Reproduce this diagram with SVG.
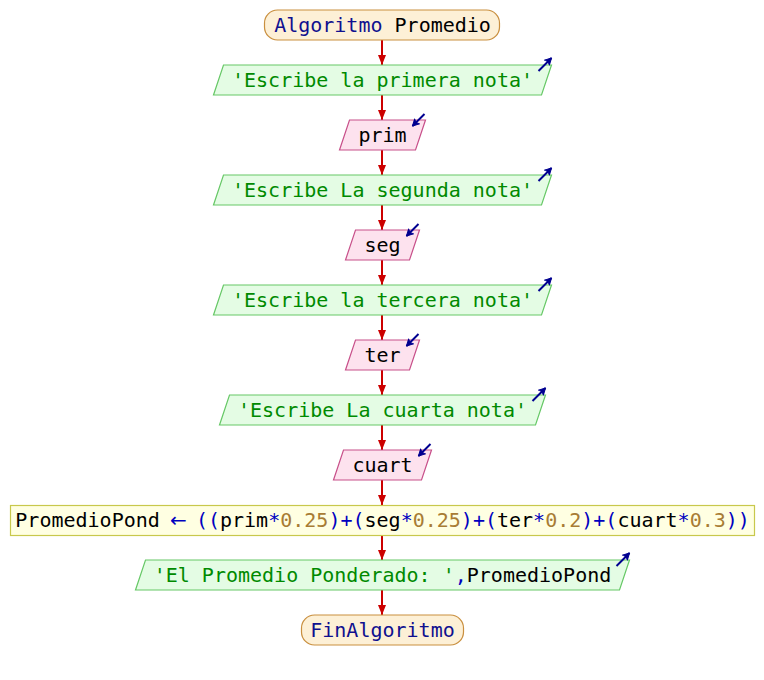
<svg xmlns="http://www.w3.org/2000/svg" width="764" height="680" viewBox="0 0 764 680">
  <style>
    text { font-family: "DejaVu Sans Mono", "Liberation Mono", monospace; font-size: 20px; text-anchor: middle; }
    .lt { text-anchor: start; }
    .term { fill: #fdf0d6; stroke: #c98f3f; stroke-width: 1.2; }
    .out { fill: #e4fce4; stroke: #66c866; stroke-width: 1.2; }
    .in { fill: #fde2ee; stroke: #c8508a; stroke-width: 1.2; }
    .asg { fill: #ffffe2; stroke: #c8c84c; stroke-width: 1.2; }
    .kw { fill: #10108f; }
    .var { fill: #000000; }
    .str { fill: #008a00; }
    .op { fill: #0000c0; }
    .num { fill: #a87c34; }
    .flow { stroke: #cc0000; stroke-width: 2; fill: none; marker-end: url(#head); }
    .io { stroke: #000090; stroke-width: 2; fill: none; marker-end: url(#iohead); }
  </style>
  <defs>
    <marker id="head" viewBox="0 0 10 8" refX="10" refY="4" markerWidth="10" markerHeight="8" markerUnits="userSpaceOnUse" orient="auto">
      <path d="M0,0 L10,4 L0,8 Z" fill="#cc0000"/>
    </marker>
    <marker id="iohead" viewBox="0 0 8 8" refX="7" refY="4" markerWidth="8" markerHeight="8" markerUnits="userSpaceOnUse" orient="auto">
      <path d="M0.5,0.5 L7,4 L0.5,7.5 L2,4 Z" fill="#000090" stroke="#000090" stroke-width="1" stroke-linejoin="round"/>
    </marker>
  </defs>

  <!-- flow connectors -->
  <g id="connectors">
    <line class="flow" x1="382" y1="40" x2="382" y2="65"/>
    <line class="flow" x1="382" y1="95" x2="382" y2="120"/>
    <line class="flow" x1="382" y1="150" x2="382" y2="175"/>
    <line class="flow" x1="382" y1="205" x2="382" y2="230"/>
    <line class="flow" x1="382" y1="260" x2="382" y2="285"/>
    <line class="flow" x1="382" y1="315" x2="382" y2="340"/>
    <line class="flow" x1="382" y1="370" x2="382" y2="395"/>
    <line class="flow" x1="382" y1="425" x2="382" y2="450"/>
    <line class="flow" x1="382" y1="480" x2="382" y2="505"/>
    <line class="flow" x1="382" y1="535" x2="382" y2="560"/>
    <line class="flow" x1="382" y1="590" x2="382" y2="615"/>
  </g>

  <g id="start">
    <rect class="term" x="264.5" y="10" width="235" height="30" rx="13"/>
    <text x="382.5" y="32"><tspan class="kw">Algoritmo</tspan> <tspan class="var">Promedio</tspan></text>
  </g>

  <g id="write1">
    <polygon class="out" points="223.5,65 551.5,65 541.5,95 213.5,95"/>
    <text x="382.5" y="87" class="str">'Escribe la primera nota'</text>
    <line class="io" x1="538.5" y1="71" x2="551.5" y2="58"/>
  </g>

  <g id="read-prim">
    <polygon class="in" points="349.5,120 425.5,120 415.5,150 339.5,150"/>
    <text x="382.5" y="142" class="var">prim</text>
    <line class="io" x1="424.5" y1="114" x2="412.5" y2="126"/>
  </g>

  <g id="write2">
    <polygon class="out" points="223.5,175 551.5,175 541.5,205 213.5,205"/>
    <text x="382.5" y="197" class="str">'Escribe La segunda nota'</text>
    <line class="io" x1="538.5" y1="181" x2="551.5" y2="168"/>
  </g>

  <g id="read-seg">
    <polygon class="in" points="355.5,230 419.5,230 409.5,260 345.5,260"/>
    <text x="382.5" y="252" class="var">seg</text>
    <line class="io" x1="418.5" y1="224" x2="406.5" y2="236"/>
  </g>

  <g id="write3">
    <polygon class="out" points="223.5,285 551.5,285 541.5,315 213.5,315"/>
    <text x="382.5" y="307" class="str">'Escribe la tercera nota'</text>
    <line class="io" x1="538.5" y1="291" x2="551.5" y2="278"/>
  </g>

  <g id="read-ter">
    <polygon class="in" points="355.5,340 419.5,340 409.5,370 345.5,370"/>
    <text x="382.5" y="362" class="var">ter</text>
    <line class="io" x1="418.5" y1="334" x2="406.5" y2="346"/>
  </g>

  <g id="write4">
    <polygon class="out" points="229.5,395 545.5,395 535.5,425 219.5,425"/>
    <text x="382.5" y="417" class="str">'Escribe La cuarta nota'</text>
    <line class="io" x1="532.5" y1="401" x2="545.5" y2="388"/>
  </g>

  <g id="read-cuart">
    <polygon class="in" points="343.5,450 431.5,450 421.5,480 333.5,480"/>
    <text x="382.5" y="472" class="var">cuart</text>
    <line class="io" x1="430.5" y1="444" x2="418.5" y2="456"/>
  </g>

  <g id="assign">
    <rect class="asg" x="10.5" y="505.5" width="744" height="30"/>
    <!-- target, arrow and expression laid out on a 12.04px monospace grid -->
    <text x="15.3" y="527" class="lt var">PromedioPond</text>
    <text x="178.5" y="527" class="op" style="font-family: 'DejaVu Sans', sans-serif;">←</text>
    <text x="195.9" y="527" class="lt"><tspan class="op">((</tspan><tspan class="var">prim</tspan><tspan class="op">*</tspan><tspan class="num">0.25</tspan><tspan class="op">)+(</tspan><tspan class="var">seg</tspan><tspan class="op">*</tspan><tspan class="num">0.25</tspan><tspan class="op">)+(</tspan><tspan class="var">ter</tspan><tspan class="op">*</tspan><tspan class="num">0.2</tspan><tspan class="op">)+(</tspan><tspan class="var">cuart</tspan><tspan class="op">*</tspan><tspan class="num">0.3</tspan><tspan class="op">))</tspan></text>
  </g>

  <g id="write5">
    <polygon class="out" points="145.5,560 629.5,560 619.5,590 135.5,590"/>
    <text x="382.5" y="582"><tspan class="str">'El Promedio Ponderado: '</tspan><tspan class="op">,</tspan><tspan class="var">PromedioPond</tspan></text>
    <line class="io" x1="616.5" y1="566" x2="629.5" y2="553"/>
  </g>

  <g id="end">
    <rect class="term" x="301.5" y="615" width="162" height="30" rx="13"/>
    <text x="382.5" y="637" class="kw">FinAlgoritmo</text>
  </g>
</svg>
